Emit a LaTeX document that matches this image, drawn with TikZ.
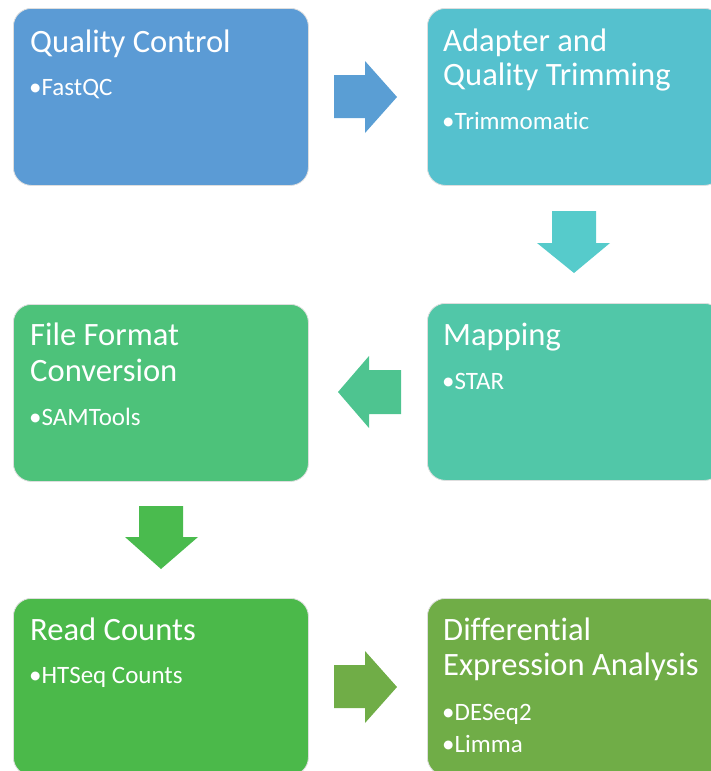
\documentclass[tikz,border=0pt]{standalone}
\usepackage{fontspec}
\setmainfont{Carlito}[Ligatures=NoCommon]
\definecolor{cA}{HTML}{5B9BD5}
\definecolor{cAB}{HTML}{5A9ED4}
\definecolor{cB}{HTML}{55C1CE}
\definecolor{cBD}{HTML}{56CBCB}
\definecolor{cD}{HTML}{51C7A8}
\definecolor{cDC}{HTML}{4EC490}
\definecolor{cC}{HTML}{4DC27A}
\definecolor{cCE}{HTML}{4ABB4E}
\definecolor{cE}{HTML}{4BB94A}
\definecolor{cF}{HTML}{70AD47}
\begin{document}
\begin{tikzpicture}[x=1pt,y=-1pt,
  box/.style={draw=black!13, line width=0.8pt, rounded corners=18pt, anchor=north west, inner sep=0pt, minimum width=295pt, minimum height=177pt},
  ttl/.style={anchor=base west, inner sep=0pt, text=white, font=\fontsize{32.6}{34}\selectfont},
  itm/.style={anchor=base west, inner sep=0pt, text=white, font=\fontsize{25}{28}\selectfont}]
\useasboundingbox (0,0) rectangle (711,771);
\clip (0,0) rectangle (711,771);
% boxes
\node[box, fill=cA] (b1) at (13,8) {};
\node[box, fill=cB] (b2) at (427,8) {};
\node[box, fill=cC] (b3) at (13,304) {};
\node[box, fill=cD] (b4) at (427,303) {};
\node[box, fill=cE] (b5) at (13,598) {};
\node[box, fill=cF] (b6) at (427,598) {};
% texts
\node[ttl] (t1) at (30,52) {Quality Control};
\node[itm] (i1) at (29,95) {•FastQC};
\node[ttl] (t2a) at (443,51) {Adapter and};
\node[ttl] (t2b) at (443,85) {Quality Trimming};
\node[itm] (i2) at (442,129) {•Trimmomatic};
\node[ttl] (t3a) at (30,345) {File Format};
\node[ttl] (t3b) at (30,381) {Conversion};
\node[itm] (i3) at (29,425) {•SAMTools};
\node[ttl] (t4) at (443,345) {Mapping};
\node[itm] (i4) at (442,389) {•STAR};
\node[ttl] (t5) at (30,640) {Read Counts};
\node[itm] (i5) at (29,683) {•HTSeq Counts};
\node[ttl] (t6a) at (443,640) {Differential};
\node[ttl] (t6b) at (443,675) {Expression Analysis};
\node[itm] (i6a) at (442,720) {•DESeq2};
\node[itm] (i6b) at (442,752) {•Limma};
% block arrows
\fill[cAB] (334,75) -- (365,75) -- (365,61) -- (397,97) -- (365,133) -- (365,118) -- (334,118) -- cycle;
\fill[cBD] (552,211) -- (596,211) -- (596,243) -- (610,243) -- (574,273) -- (537,243) -- (552,243) -- cycle;
\fill[cDC] (401,370) -- (369,370) -- (369,356) -- (338,392) -- (369,428) -- (369,414) -- (401,414) -- cycle;
\fill[cCE] (139,506) -- (183,506) -- (183,537) -- (198,537) -- (161,569) -- (125,537) -- (139,537) -- cycle;
\fill[cF] (334,665) -- (365,665) -- (365,651) -- (397,687) -- (365,723) -- (365,708) -- (334,708) -- cycle;
\end{tikzpicture}
\end{document}
